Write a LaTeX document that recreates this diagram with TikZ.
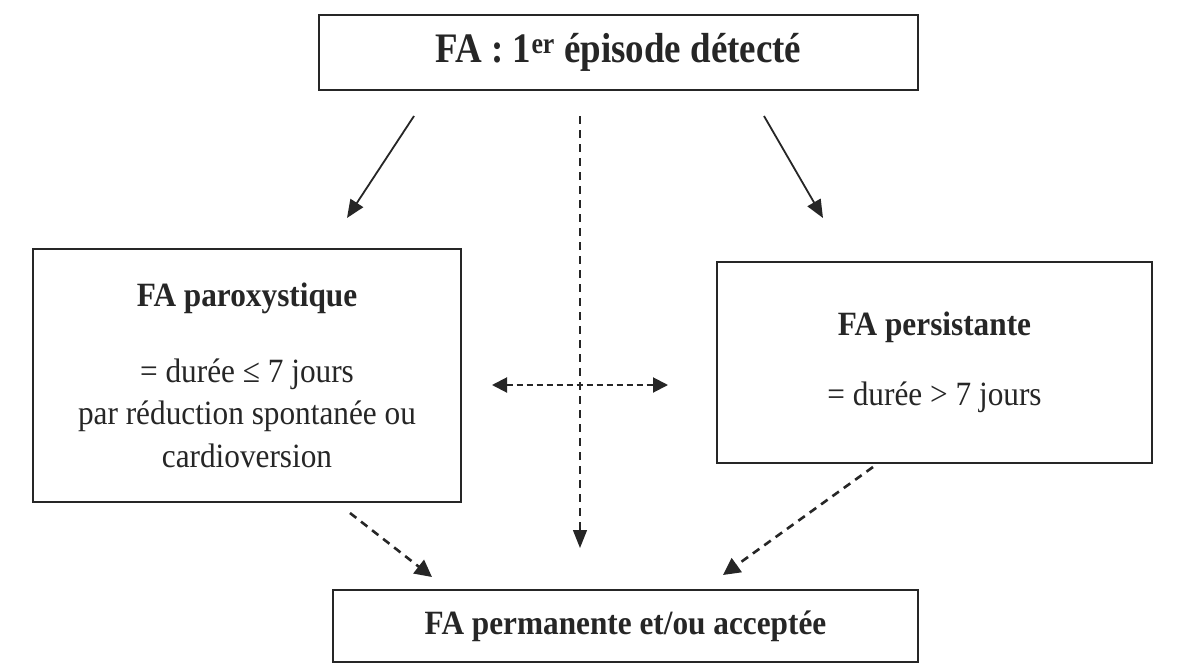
\documentclass[tikz,border=0pt]{standalone}
\usepackage{fontspec}
\setmainfont[FakeStretch=0.92]{Liberation Serif}
\newfontfamily\titlefont[FakeStretch=0.88]{Liberation Serif}
\usetikzlibrary{arrows.meta}
\definecolor{ink}{HTML}{262626}
\tikzset{
  box/.style={draw=ink, line width=1.7pt, rectangle, inner sep=0pt, align=center, text=ink,
    font=\fontsize{34}{42.5}\selectfont},
  solidarrow/.style={draw=ink, line width=1.8pt, -{Triangle[length=18pt,width=15pt]}},
  vdash/.style={draw=ink, line width=1.4pt, dash pattern=on 8pt off 6pt, -{Triangle[length=18pt,width=14pt]}},
  hdash/.style={draw=ink, line width=2pt, dash pattern=on 6pt off 4pt, {Triangle[length=15pt,width=15pt]}-{Triangle[length=15pt,width=15pt]}},
  ddash/.style={draw=ink, line width=2.6pt, dash pattern=on 8pt off 6pt, -{Triangle[length=17pt,width=17pt]}},
}
\begin{document}
\begin{tikzpicture}[x=1pt,y=-1pt]
\fill[white] (0,0) rectangle (1195,664);
\useasboundingbox (0,0) rectangle (1195,664);

\node[box, minimum width=599pt, minimum height=75pt, font=\titlefont\fontsize{42}{50}\selectfont] (top) at (618.5,52.5)
  {\textbf{FA : 1\textsuperscript{er} épisode détecté}};
\node[box, minimum width=428pt, minimum height=253pt] (left) at (247,375.5)
  {\textbf{FA paroxystique}\\[33pt] = durée ≤ 7 jours\\ par réduction spontanée ou\\ cardioversion};
\node[box, minimum width=435pt, minimum height=201pt] (right) at (934.5,362.5)
  {\textbf{FA persistante}\\[27pt] = durée > 7 jours};
\node[box, minimum width=585pt, minimum height=72pt] (bottom) at (625.5,626)
  {\textbf{FA permanente et/ou acceptée}};

\coordinate (a1s) at (414,116); \coordinate (a1e) at (347,218);
\coordinate (a2s) at (764,116); \coordinate (a2e) at (823,218);
\coordinate (a3s) at (580,116); \coordinate (a3e) at (580,548);
\coordinate (a4s) at (492,385); \coordinate (a4e) at (668,385);
\coordinate (a5s) at (350,513); \coordinate (a5e) at (432,577);
\coordinate (a6s) at (873,467); \coordinate (a6e) at (723,575);

\draw[solidarrow] (a1s) -- (a1e);
\draw[solidarrow] (a2s) -- (a2e);
\draw[vdash] (a3s) -- (a3e);
\draw[hdash] (a4s) -- (a4e);
\draw[ddash] (a5s) -- (a5e);
\draw[ddash] (a6s) -- (a6e);
\end{tikzpicture}
\end{document}
